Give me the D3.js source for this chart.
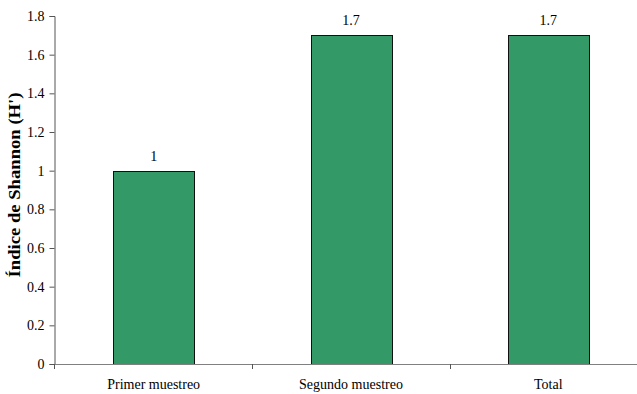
<!DOCTYPE html>
<html>
<head>
<meta charset="utf-8">
<script src="https://cdn.jsdelivr.net/npm/d3@7"></script>
<style>
  html, body { margin: 0; padding: 0; background: #fff; overflow: hidden; }
</style>
</head>
<body>
<svg id="chart" width="637" height="394"></svg>
<script>
// Shannon diversity index per sampling
const categories = ["Primer muestreo", "Segundo muestreo", "Total"];
const values = [1, 1.7, 1.7];
const valueLabels = ["1", "1.7", "1.7"];
const yTicks = [0, 0.2, 0.4, 0.6, 0.8, 1, 1.2, 1.4, 1.6, 1.8];
const yTitle = "Índice de Shannon (H')";

const FONT = "'Liberation Serif', 'Times New Roman', serif";
const svg = d3.select("#chart");
const plotLeft = 54, plotRight = 648, plotTop = 16, plotBottom = 364;

const x = d3.scaleBand()
  .domain(categories)
  .range([plotLeft, plotRight])
  .paddingInner(0.59)
  .paddingOuter(0.3);

const y = d3.scaleLinear().domain([0, 1.8]).range([plotBottom, plotTop]);

// Bars
svg.append("g").selectAll("rect")
  .data(values)
  .join("rect")
  .attr("x", (d, i) => Math.round(x(categories[i])) + 0.5)
  .attr("y", d => Math.round(y(d)) + 0.5)
  .attr("width", Math.round(x.bandwidth()))
  .attr("height", d => Math.round(y(0)) - Math.round(y(d)))
  .attr("fill", "#339966")
  .attr("stroke", "#111")
  .attr("stroke-width", 1);

// Value labels
svg.append("g").selectAll("text")
  .data(values)
  .join("text")
  .attr("x", (d, i) => x(categories[i]) + x.bandwidth() / 2)
  .attr("y", d => y(d) - 10)
  .attr("text-anchor", "middle")
  .style("font-family", FONT)
  .style("font-size", "14px")
  .attr("fill", "#000")
  .text((d, i) => valueLabels[i]);

// Y axis
const yAxis = d3.axisLeft(y)
  .tickValues(yTicks)
  .tickSize(5)
  .tickPadding(5)
  .tickFormat(d => String(d));
const gy = svg.append("g")
  .attr("transform", `translate(${plotLeft + 0.5},0)`)
  .call(yAxis);
gy.select(".domain").attr("stroke", "#555");
gy.selectAll(".tick line").attr("stroke", "#555");
gy.selectAll(".tick text")
  .style("font-family", FONT)
  .style("font-size", "14px")
  .attr("fill", "#000");

// X axis: baseline plus tick marks at category boundaries
const gx = svg.append("g");
gx.append("line")
  .attr("x1", plotLeft).attr("x2", plotRight)
  .attr("y1", plotBottom + 0.5).attr("y2", plotBottom + 0.5)
  .attr("stroke", "#808080");
const boundaries = categories.slice(1).map(c => x(c) - x.step() * x.paddingInner() / 2);
gx.selectAll("line.b")
  .data(boundaries)
  .join("line")
  .attr("class", "b")
  .attr("x1", d => Math.round(d) + 0.5).attr("x2", d => Math.round(d) + 0.5)
  .attr("y1", plotBottom).attr("y2", plotBottom + 5)
  .attr("stroke", "#555");
gx.append("line")
  .attr("x1", plotLeft + 0.5).attr("x2", plotLeft + 0.5)
  .attr("y1", plotBottom).attr("y2", plotBottom + 5)
  .attr("stroke", "#555");

// Category labels
gx.selectAll("text")
  .data(categories)
  .join("text")
  .attr("x", d => x(d) + x.bandwidth() / 2)
  .attr("y", 389)
  .attr("text-anchor", "middle")
  .style("font-family", FONT)
  .style("font-size", "14px")
  .attr("fill", "#000")
  .text(d => d);

// Y axis title
svg.append("text")
  .attr("transform", `translate(20,185) rotate(-90)`)
  .attr("text-anchor", "middle")
  .attr("textLength", 185)
  .attr("lengthAdjust", "spacingAndGlyphs")
  .style("font-family", FONT)
  .style("font-size", "16px")
  .style("font-weight", "bold")
  .attr("fill", "#000")
  .text(yTitle);
</script>
</body>
</html>
